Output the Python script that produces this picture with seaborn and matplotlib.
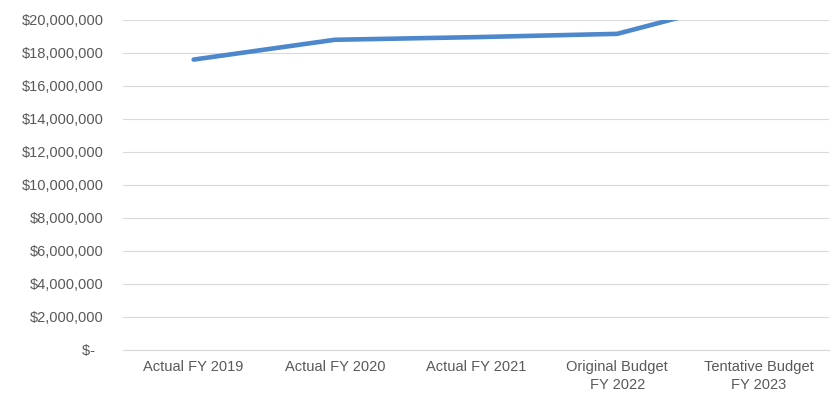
import matplotlib
matplotlib.use("Agg")
import matplotlib.pyplot as plt
import matplotlib.ticker as mticker
import pandas as pd
import seaborn as sns

# Fiscal-year categories and expenditure totals (USD)
categories = [
    "Actual FY 2019",
    "Actual FY 2020",
    "Actual FY 2021",
    "Original Budget\nFY 2022",
    "Tentative Budget\nFY 2023",
]
amounts = [17_600_000, 18_800_000, 18_960_000, 19_160_000, 21_400_000]

y_ticks = list(range(0, 20_000_001, 2_000_000))

df = pd.DataFrame({"year": categories, "amount": amounts})

sns.set_theme(style="white")
plt.rcParams["font.family"] = ["Liberation Sans", "DejaVu Sans"]

text_color = "#595959"
grid_color = "#d9d9d9"

fig = plt.figure(figsize=(8.33, 3.94), dpi=100)
ax = fig.add_axes([0.1477, 0.1117, 0.8475, 0.8376])

sns.lineplot(data=df, x="year", y="amount", sort=False, ax=ax,
             color="#4e88cc", linewidth=3.3, solid_capstyle="round",
             solid_joinstyle="round")

ax.set_xlim(-0.5, len(categories) - 0.5)
ax.set_ylim(0, 20_000_000)
ax.set_yticks(y_ticks)


def money(v, _pos):
    if v == 0:
        return "$-  "
    return f"${v:,.0f}"


ax.yaxis.set_major_formatter(mticker.FuncFormatter(money))
ax.yaxis.grid(True, color=grid_color, linewidth=0.8)
ax.set_axisbelow(True)

for side in ["top", "right", "left"]:
    ax.spines[side].set_visible(False)
ax.spines["bottom"].set_color(grid_color)
ax.spines["bottom"].set_linewidth(0.8)

ax.tick_params(axis="y", length=0, pad=14, labelsize=10.5, labelcolor=text_color)
ax.tick_params(axis="x", length=0, pad=7, labelsize=10.5, labelcolor=text_color)
for lbl in ax.get_xticklabels():
    lbl.set_linespacing(1.35)

ax.set_xlabel("")
ax.set_ylabel("")

fig.savefig("out.png", dpi=100)
